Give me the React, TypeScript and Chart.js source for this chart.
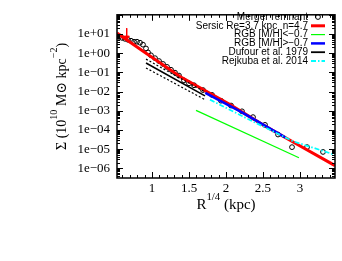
import { useEffect, useRef } from "react";
import { Chart, registerables } from "chart.js";
Chart.register(...registerables);

// ---- data ----
const remnantR = [0.554, 0.595, 0.635, 0.676, 0.716, 0.757, 0.797, 0.838, 0.878, 0.919, 0.946, 0.986, 1.041, 1.095, 1.149, 1.203, 1.257, 1.311, 1.365, 1.432, 1.5, 1.568, 1.689, 1.811, 1.932, 2.068, 2.216, 2.365, 2.527, 2.703, 2.892, 3.095, 3.311];
const remnantSigma = [7.07, 6.29, 5.6, 4.99, 4.45, 3.96, 3.96, 3.52, 2.79, 1.76, 1.1, 0.78, 0.55, 0.389, 0.275, 0.194, 0.137, 0.0968, 0.0684, 0.0383, 0.027, 0.0214, 0.012, 6.73e-3, 3.36e-3, 1.88e-3, 9.4e-4, 4.68e-4, 1.85e-4, 5.8e-5, 1.28e-5, 1.28e-5, 7.2e-6];

const sersicR = [0.527, 0.905, 1.378, 2.054, 2.5, 2.96, 3.473];
const sersicSigma = [11.2, 1.1, 0.061, 2.1e-3, 1.85e-4, 1.82e-5, 1.4e-6];

const rgbLowR = [1.595, 2.986];
const rgbLowSigma = [1.05e-3, 3.6e-6];

const rgbHighR = [1.72, 2.216, 2.8];
const rgbHighSigma = [8.5e-3, 8.3e-4, 4.1e-5];

const dufourR = [0.919, 1.716];
const dufourSigma = [0.31, 6.0e-3];
const dufourUpper = [0.49, 9.5e-3];
const dufourLower = [0.17, 3.8e-3];

const rejkubaR = [1.784, 2.324, 2.905, 3.473];
const rejkubaSigma = [3.8e-3, 3.3e-4, 2.6e-5, 5.1e-6];

const arrowR = [0.658, 0.658];
const arrowSigma = [20, 6.5];

const xTickValues = [1, 1.5, 2, 2.5, 3];
const yTickExponents = [-6, -5, -4, -3, -2, -1, 0, 1];

const legendLabels = [
  "Merger remnant",
  "Sersic Re=3.7 kpc  n=4.7",
  "RGB [M/H]<\u22120.7",
  "RGB [M/H]>\u22120.7",
  "Dufour et al. 1979",
  "Rejkuba et al. 2014",
];

const pts = (xs: number[], ys: number[]) => xs.map((x, i) => ({ x, y: ys[i] }));

const SERIF = '"Liberation Serif", "DejaVu Serif", serif';
const SANS = '"Liberation Sans", Arial, sans-serif';

type Part = { t: string; sup?: boolean };
function drawParts(ctx: CanvasRenderingContext2D, parts: Part[], cx: number, baseY: number, size: number) {
  const f = (p: Part) => `${p.sup ? size * 0.72 : size}px ${SERIF}`;
  const widths = parts.map((p) => {
    ctx.font = f(p);
    return ctx.measureText(p.t).width;
  });
  const total = widths.reduce((a, b) => a + b, 0);
  let x = cx - total / 2;
  ctx.textAlign = "left";
  ctx.textBaseline = "alphabetic";
  parts.forEach((p, i) => {
    ctx.font = f(p);
    ctx.fillText(p.t, x, baseY - (p.sup ? size * 0.62 : 0));
    x += widths[i];
  });
}

const framePlugin = {
  id: "frame",
  afterDatasetsDraw(chart: any) {
    const { ctx, chartArea: a, scales } = chart;
    const x = scales.x;
    const y = scales.y;
    ctx.save();
    ctx.strokeStyle = "#000";
    ctx.lineWidth = 1;
    const seg = (x1: number, y1: number, x2: number, y2: number) => {
      ctx.beginPath();
      ctx.moveTo(x1, y1);
      ctx.lineTo(x2, y2);
      ctx.stroke();
    };
    for (let i = 6; i <= 34; i++) {
      const px = Math.round(x.getPixelForValue(i / 10)) + 0.5;
      const L = i % 5 === 0 ? 6 : 3;
      seg(px, a.bottom, px, a.bottom - L);
      seg(px, a.top, px, a.top + L);
    }
    for (let e = -7; e <= 2; e++) {
      for (let k = 1; k <= 9; k++) {
        const v = k * Math.pow(10, e);
        if (v < y.min * 0.999 || v > y.max * 1.001) continue;
        const py = Math.round(y.getPixelForValue(v)) + 0.5;
        const L = k === 1 ? 6 : 3;
        seg(a.left, py, a.left + L, py);
        seg(a.right, py, a.right - L, py);
      }
    }
    ctx.lineWidth = 1.5;
    ctx.strokeRect(a.left, a.top, a.right - a.left, a.bottom - a.top);
    ctx.restore();
  },
  afterDraw(chart: any) {
    const { ctx, chartArea: a } = chart;
    ctx.save();
    ctx.fillStyle = "#000";
    // x title
    drawParts(ctx, [{ t: "R" }, { t: "1/4", sup: true }, { t: " (kpc)" }], (a.left + a.right) / 2, 209, 15);
    // y title
    ctx.translate(66, (a.top + a.bottom) / 2);
    ctx.rotate(-Math.PI / 2);
    drawParts(
      ctx,
      [{ t: "\u03A3 (10" }, { t: "10", sup: true }, { t: " M\u2299 kpc" }, { t: "\u22122", sup: true }, { t: ")" }],
      0,
      0,
      14
    );
    ctx.restore();

    // legend
    ctx.save();
    ctx.font = `10px ${SANS}`;
    ctx.textAlign = "right";
    ctx.textBaseline = "middle";
    ctx.fillStyle = "#000";
    const textRight = 308;
    const s1 = 311;
    const s2 = 325;
    const styles = [
      null,
      { c: "#ff0000", w: 3, d: [] },
      { c: "#00ff00", w: 1.2, d: [] },
      { c: "#0000ff", w: 2.5, d: [] },
      { c: "#000000", w: 1.8, d: [] },
      { c: "#00ffff", w: 1.8, d: [5, 2, 1.5, 2] },
    ] as any[];
    legendLabels.forEach((lab, i) => {
      const yy = 17 + 8.8 * i;
      ctx.fillText(lab, textRight, yy);
      ctx.setLineDash([]);
      if (i === 0) {
        ctx.beginPath();
        ctx.arc(318, yy, 2.4, 0, Math.PI * 2);
        ctx.lineWidth = 1;
        ctx.strokeStyle = "#000";
        ctx.stroke();
        return;
      }
      const st = styles[i];
      ctx.strokeStyle = st.c;
      ctx.lineWidth = st.w;
      ctx.setLineDash(st.d);
      ctx.beginPath();
      ctx.moveTo(s1, yy);
      ctx.lineTo(s2, yy);
      ctx.stroke();
    });
    ctx.restore();
  },
};

export default function App() {
  const ref = useRef<HTMLCanvasElement | null>(null);
  useEffect(() => {
    if (!ref.current) return;
    const line = (data: any, color: string, width: number, order: number, dash: number[] = []) => ({
      data,
      showLine: true,
      borderColor: color,
      backgroundColor: color,
      borderWidth: width,
      borderDash: dash,
      pointRadius: 0,
      order,
    });
    const chart = new Chart(ref.current, {
      type: "scatter",
      data: {
        datasets: [
          {
            data: pts(remnantR, remnantSigma),
            showLine: false,
            pointStyle: "circle",
            pointRadius: 2.4,
            borderWidth: 1,
            borderColor: "#000",
            backgroundColor: "rgba(0,0,0,0)",
            order: 7,
          } as any,
          line(pts(sersicR, sersicSigma), "#ff0000", 3, 6),
          line(pts(rgbLowR, rgbLowSigma), "#00ff00", 1.2, 5),
          line(pts(rgbHighR, rgbHighSigma), "#0000ff", 2.5, 4),
          line(pts(dufourR, dufourSigma), "#000000", 1.6, 3),
          line(pts(dufourR, dufourUpper), "#000000", 1.2, 3, [2, 2]),
          line(pts(dufourR, dufourLower), "#000000", 1.2, 3, [2, 2]),
          line(pts(rejkubaR, rejkubaSigma), "#00ffff", 1.8, 2, [5, 2, 1.5, 2]),
          {
            data: pts(arrowR, arrowSigma),
            showLine: true,
            borderColor: "#ff0000",
            backgroundColor: "#ff0000",
            borderWidth: 1,
            pointStyle: "triangle",
            rotation: 180,
            pointRadius: [0, 3],
            order: 1,
          } as any,
        ],
      },
      options: {
        animation: false,
        responsive: false,
        maintainAspectRatio: false,
        events: [],
        layout: { padding: { top: 9, right: 7, left: 0, bottom: 0 } },
        plugins: { legend: { display: false }, tooltip: { enabled: false } },
        scales: {
          x: {
            type: "linear",
            min: 0.527,
            max: 3.473,
            grid: { display: false, drawTicks: false },
            border: { display: false },
            ticks: {
              color: "#000",
              font: { family: SERIF, size: 13 },
              padding: 3,
              maxRotation: 0,
              autoSkip: false,
              callback: (v: any) => String(v),
            },
            afterBuildTicks: (s: any) => {
              s.ticks = xTickValues.map((v) => ({ value: v }));
            },
            afterFit: (s: any) => {
              s.height = 83;
            },
          },
          y: {
            type: "logarithmic",
            min: Math.pow(10, -6.5),
            max: 100,
            grid: { display: false, drawTicks: false },
            border: { display: false },
            ticks: {
              color: "#000",
              font: { family: SERIF, size: 13 },
              padding: 7,
              autoSkip: false,
              callback: (v: any) => {
                const e = Math.round(Math.log10(Number(v)));
                return `1e${e < 0 ? "\u2212" : "+"}${String(Math.abs(e)).padStart(2, "0")}`;
              },
            },
            afterBuildTicks: (s: any) => {
              s.ticks = yTickExponents.map((e) => ({ value: Math.pow(10, e) }));
            },
            afterFit: (s: any) => {
              s.width = 117;
            },
          },
        },
      } as any,
      plugins: [framePlugin],
    });
    return () => chart.destroy();
  }, []);
  return (
    <div style={{ position: "fixed", left: 0, top: 0, width: 342, height: 261, background: "#fff" }}>
      <canvas ref={ref} width={342} height={261} style={{ display: "block", width: 342, height: 261 }} />
    </div>
  );
}
